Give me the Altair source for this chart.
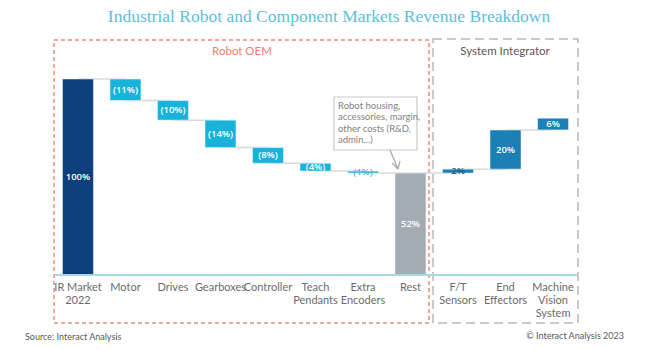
import altair as alt
import pandas as pd

# ---- data ----
categories = ["IR Market|2022", "Motor", "Drives", "Gearboxes", "Controller",
              "Teach|Pendants", "Extra|Encoders", "Rest", "F/T|Sensors",
              "End|Effectors", "Machine|Vision|System"]
values = [100, -11, -10, -14, -8, -4, -1, 52, 2, 20, 6]
kinds = ["total", "oem", "oem", "oem", "oem", "oem", "oem", "rest", "si", "si", "si"]
labels = ["100%", "(11%)", "(10%)", "(14%)", "(8%)", "(4%)", "(1%)", "52%", "2%", "20%", "6%"]
note_lines = ["Robot housing,", "accessories, margin,", "other costs (R&D,", "admin...)"]

color_map = {"total": "#0d3f7c", "oem": "#18b2da", "rest": "#a3acb3", "si": "#1b80b6"}

# waterfall start/end
rows = []
level = 0
for c, v, k, lab in zip(categories, values, kinds, labels):
    if k in ("total", "rest"):
        s, e = 0, v
        level = v
    else:
        s, e = level, level + v
        level = e
    small = abs(v) <= 2 and k not in ("total", "rest")
    lc = "white"
    if small:
        lc = "#5ab4d4" if k == "oem" else "#2f5f80"
    rows.append(dict(cat=c, start=s, end=e, mid=(s + e) / 2, color=color_map[k],
                     label=lab, lcolor=lc))
bars = pd.DataFrame(rows)

conn = pd.DataFrame({
    "cat": categories[:-1],
    "next": categories[1:],
    "level": [r["end"] for r in rows[:-1]],
})

x_scale = alt.Scale(domain=categories, range=[54, 577], paddingInner=0.347, paddingOuter=0.178)
y_scale = alt.Scale(domain=[0, 140.3], nice=False, zero=True)

FONT = "Open Sans"
LFONT = "Lato"

X = alt.X("cat:N", scale=x_scale, sort=categories, axis=None)

bar_layer = alt.Chart(bars).mark_bar(stroke="white", strokeWidth=0.5).encode(
    x=X,
    y=alt.Y("start:Q", scale=y_scale, axis=None),
    y2="end:Q",
    color=alt.Color("color:N", scale=None),
)

conn_layer = alt.Chart(conn).mark_rule(color="#d9d9d9", strokeWidth=1.5).encode(
    x=X,
    x2="next:N",
    y=alt.Y("level:Q", scale=y_scale, axis=None),
)

text_layer = alt.Chart(bars).mark_text(font=FONT, fontSize=9.5, fontWeight=600).encode(
    x=X,
    y=alt.Y("mid:Q", scale=y_scale, axis=None),
    text="label:N",
    color=alt.Color("lcolor:N", scale=None),
)

cat_labels = alt.Chart(bars).mark_text(font=LFONT, fontSize=11, color="#6b6b6b",
                                       baseline="top", lineBreak="|", lineHeight=13).encode(
    x=X, y=alt.value(282), text="cat:N")

one = pd.DataFrame({"a": [0]})
base = alt.Chart(one)

axis_line = base.mark_rule(color="#a6d9e8", strokeWidth=2).encode(
    x=alt.value(55), x2=alt.value(577), y=alt.value(275))

red_box = base.mark_rect(fill=None, filled=False, stroke="#f08a78", strokeWidth=1.5,
                         strokeDash=[4, 3]).encode(
    x=alt.value(54), x2=alt.value(429), y=alt.value(40), y2=alt.value(323))
gray_box = base.mark_rect(fill=None, filled=False, stroke="#b8b8b8", strokeWidth=1.5,
                          strokeDash=[9, 5]).encode(
    x=alt.value(433), x2=alt.value(578), y=alt.value(39), y2=alt.value(323))

title = base.mark_text(font="Liberation Serif", fontSize=17.5, color="#5cc0da",
                       align="center", baseline="middle").encode(
    x=alt.value(329), y=alt.value(17),
    text=alt.value("Industrial Robot and Component Markets Revenue Breakdown"))

oem_head = base.mark_text(font=LFONT, fontSize=11.5, color="#ef7f6a").encode(
    x=alt.value(242), y=alt.value(52), text=alt.value("Robot OEM"))
si_head = base.mark_text(font=LFONT, fontSize=11.5, color="#595959").encode(
    x=alt.value(505), y=alt.value(52), text=alt.value("System Integrator"))

note_box = base.mark_rect(fill="white", stroke="#c9c9c9", strokeWidth=1.2).encode(
    x=alt.value(334), x2=alt.value(417), y=alt.value(97), y2=alt.value(150))
note_df = pd.DataFrame({"t": note_lines, "i": list(range(len(note_lines)))})
note_text = alt.Chart(note_df).mark_text(font=LFONT, fontSize=9.5, color="#7f7f7f",
                                         align="left", baseline="middle").encode(
    x=alt.value(338),
    y=alt.Y("i:Q", scale=alt.Scale(domain=[0, 3], range=[106, 140]), axis=None),
    text="t:N")

arrow_shaft = base.mark_rule(color="#a6a6a6", strokeWidth=1.2).encode(
    x=alt.value(390), x2=alt.value(398), y=alt.value(150), y2=alt.value(169))
arrow_h1 = base.mark_rule(color="#a6a6a6", strokeWidth=1.2).encode(
    x=alt.value(398), x2=alt.value(392), y=alt.value(169), y2=alt.value(163))
arrow_h2 = base.mark_rule(color="#a6a6a6", strokeWidth=1.2).encode(
    x=alt.value(398), x2=alt.value(400), y=alt.value(169), y2=alt.value(161))

src = base.mark_text(font=LFONT, fontSize=9, color="#595959", align="left").encode(
    x=alt.value(25), y=alt.value(337), text=alt.value("Source: Interact Analysis"))
copy = base.mark_text(font=LFONT, fontSize=9, color="#595959", align="right").encode(
    x=alt.value(624), y=alt.value(336), text=alt.value("© Interact Analysis 2023"))

chart = alt.layer(
    red_box, gray_box, conn_layer, bar_layer, text_layer, axis_line, cat_labels,
    note_box, note_text, arrow_shaft, arrow_h1, arrow_h2,
    title, oem_head, si_head, src, copy,
).resolve_scale(y="independent").properties(
    width=645, height=275, autosize="none", background="white",
    padding={"left": 0, "top": 0, "right": 0, "bottom": 75},
).configure_view(stroke=None)

chart.save("out.html", embed_options={"renderer": "svg", "actions": False})
